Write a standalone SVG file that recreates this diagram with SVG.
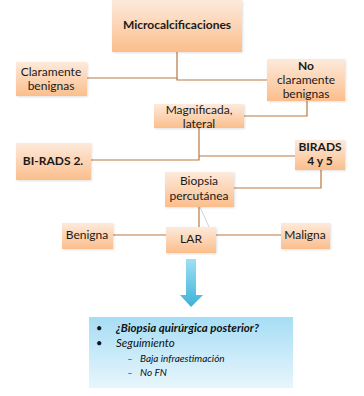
<svg xmlns="http://www.w3.org/2000/svg" width="364" height="396" viewBox="0 0 364 396">
<defs>
<linearGradient id="og" x1="0" y1="0" x2="0" y2="1">
<stop offset="0" stop-color="#FDEADB"/>
<stop offset="1" stop-color="#FBBE8C"/>
</linearGradient>
<linearGradient id="bg" x1="0" y1="0" x2="0" y2="1">
<stop offset="0" stop-color="#A6DDF5"/>
<stop offset="1" stop-color="#E8F6FC"/>
</linearGradient>
<linearGradient id="ag" x1="0" y1="0" x2="0" y2="1">
<stop offset="0" stop-color="#9EE0F5"/>
<stop offset="1" stop-color="#3FB1D9"/>
</linearGradient>
<filter id="sh" x="-10%" y="-10%" width="130%" height="130%">
<feDropShadow dx="1" dy="1" stdDeviation="0.8" flood-color="#000" flood-opacity="0.12"/>
</filter>
<style>
.n{fill:url(#og);filter:url(#sh)}
.t{font-family:Lato,"Open Sans","Liberation Sans",sans-serif;font-size:12px;fill:#1a1a1a;text-anchor:middle}
.b{font-weight:bold}
.c{fill:none;stroke:#B9783F;stroke-width:1.2}
.l{font-family:Lato,"Open Sans","Liberation Sans",sans-serif;font-style:italic;fill:#111}
</style>
</defs>
<g id="connectors">
<polyline class="c" points="87,78 177,78 177,52"/>
<polyline class="c" points="177,78 177,80 267,80"/>
<polyline class="c" points="307,101 307,116 244,116"/>
<polyline class="c" points="199,128 199,160 91,160"/>
<polyline class="c" points="199,156 295,156"/>
<polyline class="c" points="321,170 321,188 234,188"/>
<line class="c" x1="199" y1="207" x2="199" y2="227"/>
<line x1="200" y1="207" x2="209" y2="227" stroke="#C8C8C8" stroke-width="0.8"/>
<line class="c" x1="113" y1="235" x2="166" y2="235"/>
<line class="c" x1="216" y1="235" x2="281" y2="235"/>
</g>
<g id="micro"><rect class="n" x="112" y="0" width="130" height="52"/><text class="t b" x="177" y="29">Microcalcificaciones</text></g>
<g id="claramente"><rect class="n" x="16" y="62" width="71" height="34"/><text class="t" x="51" y="76">Claramente</text><text class="t" x="51" y="90">benignas</text></g>
<g id="noclaramente"><rect class="n" x="267" y="59" width="78" height="42"/><text class="t b" x="306" y="70">No</text><text class="t" x="306" y="84">claramente</text><text class="t" x="306" y="98">benignas</text></g>
<g id="magnificada"><rect class="n" x="154" y="104" width="90" height="24"/><text class="t" x="199" y="114">Magnificada,</text><text class="t" x="199" y="128">lateral</text></g>
<g id="birads2"><rect class="n" x="16" y="143" width="75" height="37"/><text class="t b" x="53" y="165">BI-RADS 2.</text></g>
<g id="birads45"><rect class="n" x="295" y="140" width="50" height="30"/><text class="t b" x="320" y="151">BIRADS</text><text class="t b" x="320" y="165">4 y 5</text></g>
<g id="biopsia"><rect class="n" x="165" y="172" width="69" height="35"/><text class="t" x="199" y="185">Biopsia</text><text class="t" x="199" y="200">percutánea</text></g>
<g id="lar"><rect class="n" x="166" y="227" width="50" height="26"/><text class="t" x="191" y="243">LAR</text></g>
<g id="benigna"><rect class="n" x="62" y="223" width="51" height="26"/><text class="t" x="87" y="239">Benigna</text></g>
<g id="maligna"><rect class="n" x="281" y="223" width="49" height="26"/><text class="t" x="305" y="239">Maligna</text></g>
<g id="arrow"><polygon points="186,259 196,259 196,295 203,295 191,307 180,295 186,295" fill="url(#ag)"/></g>
<g id="result">
<rect x="89" y="317" width="204" height="71" fill="url(#bg)"/>
<text class="l" x="96" y="332" font-size="11" font-style="normal">•</text>
<text class="l b" x="116" y="332" font-size="11.5">¿Biopsia quirúrgica posterior?</text>
<text class="l" x="96" y="347" font-size="11" font-style="normal">•</text>
<text class="l" x="116" y="347" font-size="11.5">Seguimiento</text>
<text class="l" x="127" y="362" font-size="10">–</text>
<text class="l" x="140" y="362" font-size="10">Baja infraestimación</text>
<text class="l" x="127" y="376" font-size="10">–</text>
<text class="l" x="140" y="376" font-size="10">No FN</text>
</g>
</svg>
